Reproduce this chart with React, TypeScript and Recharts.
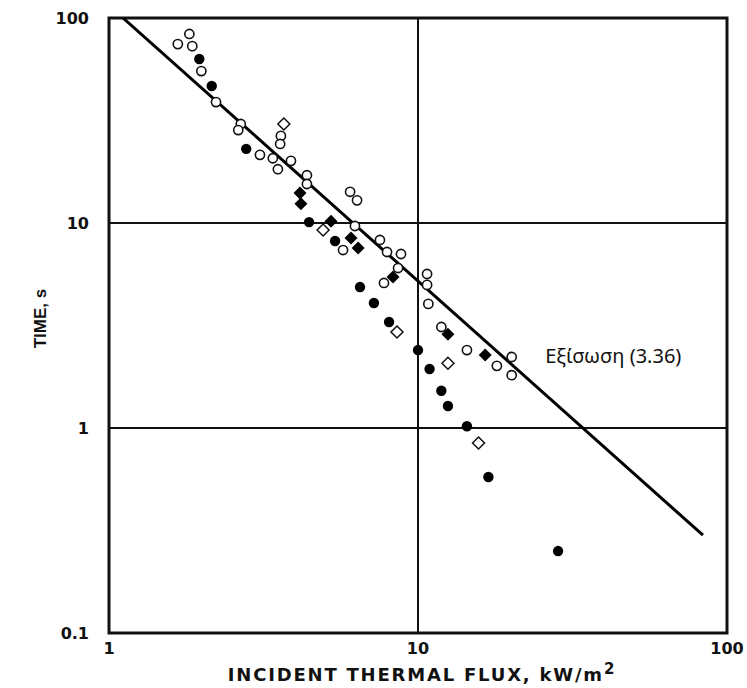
import React from "react";
import {
  ScatterChart,
  Scatter,
  XAxis,
  YAxis,
  ReferenceLine,
  ReferenceArea,
  ReferenceDot,
} from "recharts";

// values (flux kW/m2, time s)
const openCircles = [
  { x: 1.82, y: 83.6 },
  { x: 1.67, y: 74.6 },
  { x: 1.86, y: 72.9 },
  { x: 1.99, y: 55.1 },
  { x: 2.22, y: 38.9 },
  { x: 2.67, y: 30.4 },
  { x: 2.62, y: 28.4 },
  { x: 3.6, y: 26.6 },
  { x: 3.58, y: 24.3 },
  { x: 3.08, y: 21.5 },
  { x: 3.39, y: 20.7 },
  { x: 3.88, y: 20.1 },
  { x: 3.52, y: 18.3 },
  { x: 4.37, y: 17.1 },
  { x: 4.37, y: 15.5 },
  { x: 6.03, y: 14.2 },
  { x: 6.35, y: 12.9 },
  { x: 6.25, y: 9.67 },
  { x: 5.72, y: 7.38 },
  { x: 7.53, y: 8.26 },
  { x: 7.94, y: 7.22 },
  { x: 8.81, y: 7.06 },
  { x: 8.62, y: 6.03 },
  { x: 7.76, y: 5.1 },
  { x: 10.7, y: 5.64 },
  { x: 10.7, y: 4.99 },
  { x: 10.8, y: 4.03 },
  { x: 11.9, y: 3.11 },
  { x: 14.4, y: 2.4 },
  { x: 20.1, y: 2.22 },
  { x: 18.0, y: 2.01 },
  { x: 20.1, y: 1.81 },
];

const filledCircles = [
  { x: 1.96, y: 63.1 },
  { x: 2.15, y: 46.6 },
  { x: 2.78, y: 23.0 },
  { x: 4.44, y: 10.1 },
  { x: 5.39, y: 8.17 },
  { x: 6.49, y: 4.87 },
  { x: 7.2, y: 4.07 },
  { x: 8.06, y: 3.29 },
  { x: 10.0, y: 2.4 },
  { x: 10.9, y: 1.94 },
  { x: 11.9, y: 1.52 },
  { x: 12.5, y: 1.28 },
  { x: 14.4, y: 1.02 },
  { x: 16.9, y: 0.577 },
  { x: 28.4, y: 0.251 },
];

const filledDiamonds = [
  { x: 4.15, y: 14.0 },
  { x: 4.18, y: 12.4 },
  { x: 5.23, y: 10.2 },
  { x: 6.07, y: 8.45 },
  { x: 6.4, y: 7.55 },
  { x: 8.3, y: 5.45 },
  { x: 12.5, y: 2.87 },
  { x: 16.5, y: 2.27 },
];

const openDiamonds = [
  { x: 3.68, y: 30.4 },
  { x: 4.93, y: 9.25 },
  { x: 8.55, y: 2.94 },
  { x: 12.5, y: 2.07 },
  { x: 15.7, y: 0.845 },
];

// Εξίσωση (3.36) — straight line on log-log axes
const equationLine = [
  { x: 1.11, y: 100 },
  { x: 83.6, y: 0.3 },
];

const xTicks = [1, 10, 100];
const yTicks = [0.1, 1, 10, 100];
const annotation = { x: 25.8, y: 2.27, text: "Εξίσωση (3.36)" };

const tickStyle = {
  fontFamily: "DejaVu Sans, sans-serif",
  fontWeight: 700,
  fontSize: 16,
  fill: "#111",
};

const OpenCircle = (props: any) => {
  const { cx, cy } = props;
  if (cx == null || cy == null) return <g />;
  return <circle cx={cx} cy={cy} r={4.6} fill="#fff" stroke="#111" strokeWidth={1.6} />;
};

const FilledCircle = (props: any) => {
  const { cx, cy } = props;
  if (cx == null || cy == null) return <g />;
  return <circle cx={cx} cy={cy} r={5.2} fill="#000" />;
};

const FilledDiamond = (props: any) => {
  const { cx, cy } = props;
  if (cx == null || cy == null) return <g />;
  const s = 6.5;
  return (
    <path
      d={`M${cx},${cy - s}L${cx + s},${cy}L${cx},${cy + s}L${cx - s},${cy}Z`}
      fill="#000"
    />
  );
};

const OpenDiamond = (props: any) => {
  const { cx, cy } = props;
  if (cx == null || cy == null) return <g />;
  const s = 6;
  return (
    <path
      d={`M${cx},${cy - s}L${cx + s},${cy}L${cx},${cy + s}L${cx - s},${cy}Z`}
      fill="#fff"
      stroke="#111"
      strokeWidth={1.5}
    />
  );
};

const NoDot = () => <g />;

const XTitle = (props: any) => {
  const { viewBox } = props;
  const cx = viewBox.x + viewBox.width / 2;
  return (
    <text
      x={cx + 4}
      y={681}
      textAnchor="middle"
      fontFamily="DejaVu Sans, sans-serif"
      fontWeight={700}
      fontSize={18}
      letterSpacing={1.8}
      fill="#111"
    >
      INCIDENT THERMAL FLUX, kW/m
      <tspan fontSize={15} dy={-7}>
        2
      </tspan>
    </text>
  );
};

const YTitle = (props: any) => {
  const { viewBox } = props;
  const cy = viewBox.y + viewBox.height / 2 - 7;
  return (
    <text
      x={40}
      y={cy}
      transform={`rotate(-90, 40, ${cy})`}
      textAnchor="middle"
      dominantBaseline="central"
      fontFamily="Liberation Sans Narrow, Arial Narrow, sans-serif"
      fontWeight={700}
      fontSize={17}
      fill="#111"
    >
      TIME, s
    </text>
  );
};

const fmt = (v: number) => (v < 1 ? String(v) : String(Math.round(v)));

export default function App() {
  return (
    <div style={{ position: "absolute", left: 0, top: 0, background: "#fff" }}>
      <ScatterChart
        width={747}
        height={688}
        margin={{ top: 18, right: 20, bottom: 0, left: 0 }}
      >
        <XAxis
          type="number"
          dataKey="x"
          scale="log"
          domain={[1, 100]}
          ticks={xTicks}
          allowDataOverflow
          axisLine={false}
          tickLine={false}
          tickSize={0}
          tickMargin={10}
          height={55}
          tick={tickStyle}
          tickFormatter={fmt}
          label={<XTitle />}
        />
        <YAxis
          type="number"
          dataKey="y"
          scale="log"
          domain={[0.1, 100]}
          ticks={yTicks}
          allowDataOverflow
          axisLine={false}
          tickLine={false}
          tickSize={0}
          tickMargin={20}
          width={109}
          tick={tickStyle}
          tickFormatter={fmt}
          label={<YTitle />}
        />
        <ReferenceLine x={10} stroke="#111" strokeWidth={2} />
        <ReferenceLine y={10} stroke="#111" strokeWidth={2} />
        <ReferenceLine y={1} stroke="#111" strokeWidth={2} />
        <ReferenceArea
          x1={1}
          x2={100}
          y1={0.1}
          y2={100}
          fill="none"
          fillOpacity={0}
          stroke="#111"
          strokeWidth={3}
        />
        <Scatter
          data={equationLine}
          line={{ stroke: "#000", strokeWidth: 3 }}
          shape={NoDot}
          isAnimationActive={false}
        />
        <Scatter data={openCircles} shape={OpenCircle} isAnimationActive={false} />
        <Scatter data={filledCircles} shape={FilledCircle} isAnimationActive={false} />
        <Scatter data={filledDiamonds} shape={FilledDiamond} isAnimationActive={false} />
        <Scatter data={openDiamonds} shape={OpenDiamond} isAnimationActive={false} />
        <ReferenceDot
          x={annotation.x}
          y={annotation.y}
          r={0}
          fill="none"
          stroke="none"
          label={(p: any) => (
            <text
              x={p.viewBox.x}
              y={p.viewBox.y}
              dominantBaseline="central"
              fontFamily="Noto Sans, Open Sans, sans-serif"
              fontSize={20}
              fill="#111"
            >
              {annotation.text}
            </text>
          )}
        />
      </ScatterChart>
    </div>
  );
}
